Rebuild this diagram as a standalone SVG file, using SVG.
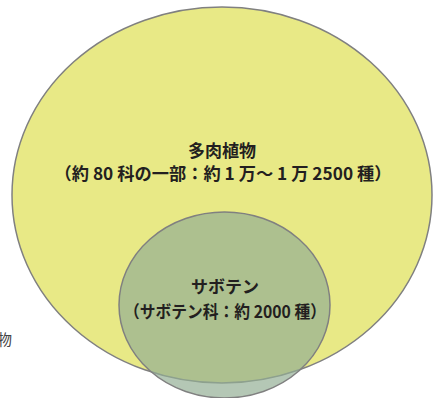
<svg xmlns="http://www.w3.org/2000/svg" width="433" height="398" viewBox="0 0 433 398">
<style>
.lbl{font-family:"Noto Sans CJK JP","Noto Sans",sans-serif;font-weight:bold;font-size:17px;fill:#231f20;text-anchor:middle}
.side{font-family:"Noto Sans CJK JP","Noto Sans",sans-serif;font-size:15px;fill:#444}
</style>
<rect width="433" height="398" fill="#ffffff"/>
<text class="side" x="-3" y="345">物</text>
<g id="succulents">
<ellipse cx="222" cy="195" rx="210" ry="188" fill="#e8e986" stroke="#808080" stroke-width="1.5"/>
<text class="lbl" x="222" y="157">多肉植物</text>
<text class="lbl" x="223" y="180" textLength="337" lengthAdjust="spacingAndGlyphs">（約 80 科の一部：約 1 万～ 1 万 2500 種）</text>
</g>
<g id="cactus">
<ellipse cx="224.5" cy="305" rx="105.5" ry="93" fill="#92ae94" fill-opacity="0.69" stroke="#808080" stroke-width="1.5"/>
<text class="lbl" x="225" y="293">サボテン</text>
<text class="lbl" x="225" y="318" textLength="202" lengthAdjust="spacingAndGlyphs">（サボテン科：約 2000 種）</text>
</g>
<g id="connectors"/>
</svg>
